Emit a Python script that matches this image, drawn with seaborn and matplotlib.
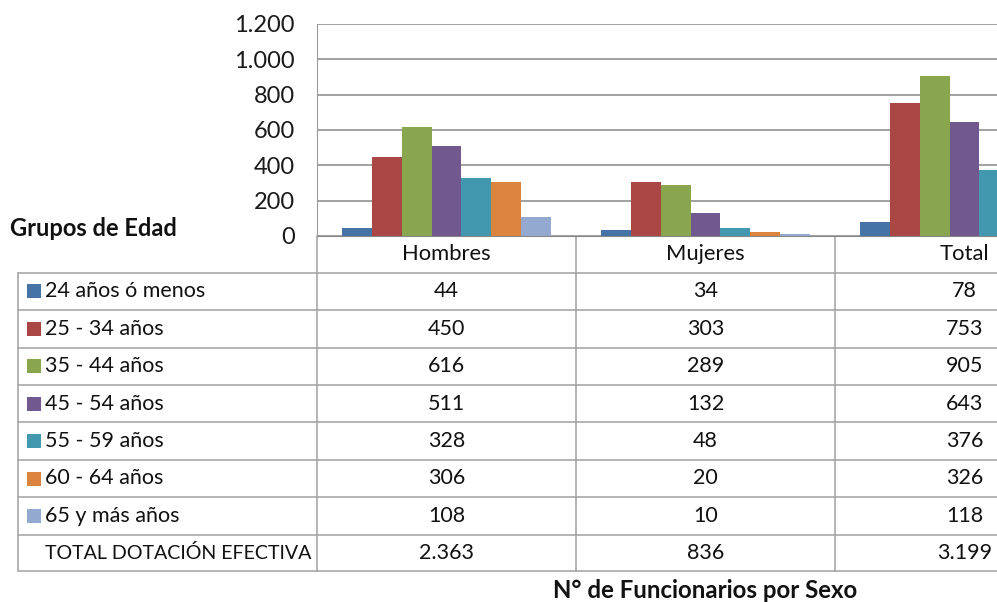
import pandas as pd
import matplotlib.pyplot as plt
import matplotlib.transforms as mtransforms
from matplotlib.patches import Rectangle
from matplotlib.ticker import FuncFormatter
import seaborn as sns

# Datos
grupos = ["24 años ó menos", "25 - 34 años", "35 - 44 años", "45 - 54 años",
          "55 - 59 años", "60 - 64 años", "65 y más años"]
sexos = ["Hombres", "Mujeres", "Total"]
hombres = [44, 450, 616, 511, 328, 306, 108]
mujeres = [34, 303, 289, 132, 48, 20, 10]
total = [78, 753, 905, 643, 376, 326, 118]
colores = ["#4572A7", "#AA4643", "#89A54E", "#71588F", "#4198AF", "#DB843D", "#93A9CF"]
y_ticks = [0, 200, 400, 600, 800, 1000, 1200]


def miles(v):
    # separador de miles con punto
    return f"{int(v):,}".replace(",", ".")


df = pd.DataFrame({
    "grupo": grupos * 3,
    "sexo": [s for s in sexos for _ in grupos],
    "valor": hombres + mujeres + total,
})

sns.set_style("white")
plt.rcParams["font.family"] = ["Lato", "DejaVu Sans"]

W, H = 997, 602
fig = plt.figure(figsize=(W / 100, H / 100), dpi=100)


def fx(px):
    return px / W


def fy(py):
    return 1 - py / H


# Area de grafico (se sale por la derecha, como en la imagen)
ax = fig.add_axes([fx(317), fy(236), fx(1094) - fx(317), fy(24) - fy(236)])
sns.barplot(data=df, x="sexo", y="valor", hue="grupo", order=sexos,
            hue_order=grupos, palette=colores, saturation=1, width=0.81,
            gap=0, linewidth=0, legend=False, ax=ax)
ax.set_xlim(-0.5, 2.5)
ax.set_ylim(0, 1200)
ax.set_yticks(y_ticks)
ax.yaxis.set_major_formatter(FuncFormatter(lambda v, p: miles(v)))
ax.set_xticks([])
ax.set_xlabel("")
ax.set_ylabel("")
ax.tick_params(axis="y", length=0, pad=16, labelsize=17, labelcolor="#1a1a1a")
ax.grid(axis="y", color="#878787", linewidth=1.1)
ax.set_axisbelow(True)
for lado in ["top", "right"]:
    ax.spines[lado].set_visible(False)
ax.spines["left"].set_color("#9a9a9a")
ax.spines["bottom"].set_color("#878787")

# Tabla de datos bajo el grafico
blend = mtransforms.blended_transform_factory(ax.transData, fig.transFigure)
linea = dict(color="#a0a0a0", linewidth=1.1, clip_on=False)
filas = [272.7, 310, 347.5, 385, 422, 460, 497, 535, 571]
fs = 15.5
tinta = "#111111"

# lineas horizontales
for py in filas:
    fig.add_artist(plt.Line2D([fx(18), 1.2], [fy(py), fy(py)], **linea))
# lineas verticales
fig.add_artist(plt.Line2D([fx(18), fx(18)], [fy(filas[0]), fy(filas[-1])], **linea))
fig.add_artist(plt.Line2D([fx(317), fx(317)], [fy(236), fy(filas[-1])], **linea))
for xv in [0.5, 1.5, 2.5]:
    ax.plot([xv, xv], [fy(236), fy(filas[-1])], transform=blend, **linea)

# encabezados de columna
for i, s in enumerate(sexos):
    ax.text(i, fy(254.5), s, transform=blend, ha="center", va="center",
            fontsize=15.8, color=tinta)

series = [hombres, mujeres, total]
for r, g in enumerate(grupos):
    yc = fy((filas[r] + filas[r + 1]) / 2)
    fig.add_artist(Rectangle((fx(26.5), yc - 7 / H), 14 / W, 14 / H,
                             transform=fig.transFigure, facecolor=colores[r],
                             edgecolor="none"))
    fig.text(fx(45), yc, g, ha="left", va="center", fontsize=fs, color=tinta)
    for i, vals in enumerate(series):
        ax.text(i, yc, miles(vals[r]), transform=blend, ha="center",
                va="center", fontsize=fs, color=tinta)

yc = fy((filas[-2] + filas[-1]) / 2)
fig.text(fx(45), yc, "TOTAL DOTACIÓN EFECTIVA", ha="left", va="center",
         fontsize=14.1, color=tinta)
for i, vals in enumerate(series):
    ax.text(i, yc, miles(sum(vals)), transform=blend, ha="center",
            va="center", fontsize=fs, color=tinta)

# titulos
fig.text(fx(10), fy(228), "Grupos de Edad", ha="left", va="center",
         fontsize=17, fontweight="bold", color=tinta)
fig.text(fx(705), fy(590), "N° de Funcionarios por Sexo", ha="center",
         va="center", fontsize=17.3, fontweight="bold", color=tinta)

fig.savefig("out.png", dpi=100)
